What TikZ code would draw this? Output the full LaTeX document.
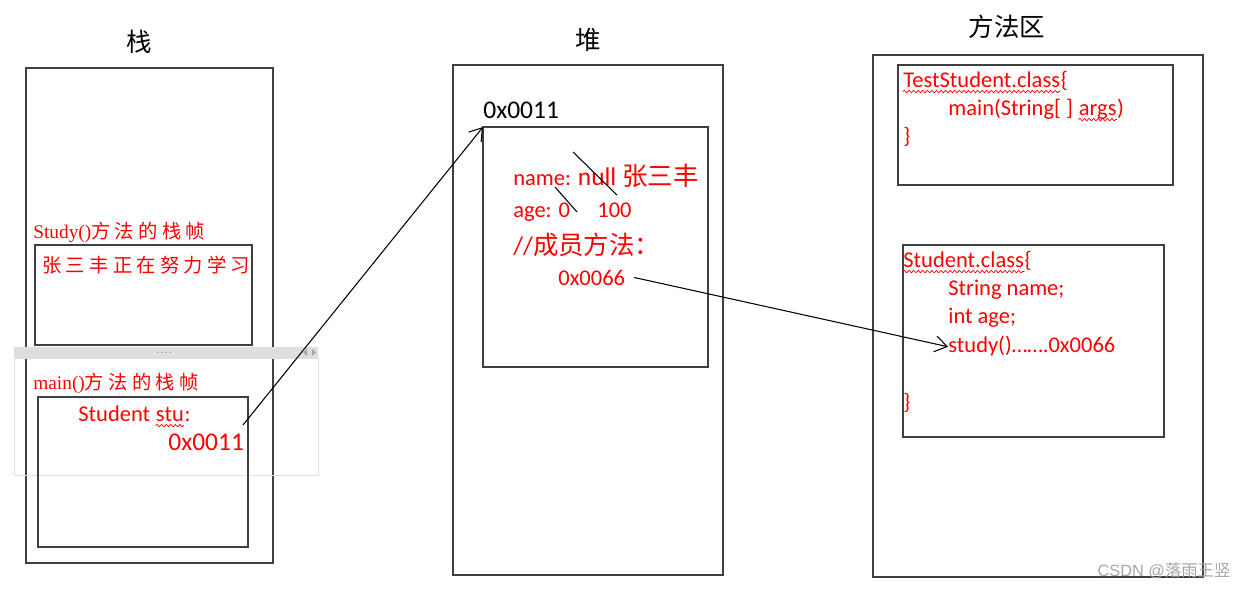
\documentclass[tikz,border=0pt]{standalone}
\usepackage{fontspec}
\setmainfont{Carlito}
\newfontfamily\cjk{Noto Sans CJK SC}
\newfontfamily\cjkwide[LetterSpace=22]{Noto Sans CJK SC}
\newfontfamily\serifl{Liberation Serif}
\newfontfamily\wmark{Liberation Sans}
\usetikzlibrary{arrows.meta,decorations.pathmorphing}
\definecolor{boxline}{RGB}{64,64,64}
\definecolor{wordred}{RGB}{255,0,0}
\definecolor{handle}{RGB}{222,222,222}

\begin{document}
\begin{tikzpicture}[x=0.02cm,y=-0.02cm,
    frame/.style={draw=boxline,line width=0.8pt,inner sep=0pt,outer sep=0pt,
                  anchor=north west},
    code/.style={text=wordred,anchor=base west,inner sep=0pt,
                 font=\fontsize{12.8}{14}\selectfont},
    big/.style={text=wordred,anchor=base west,inner sep=0pt,
                font=\fontsize{14.5}{16}\selectfont},
    label/.style={text=wordred,anchor=base west,inner sep=0pt,
                  font=\serifl\fontsize{11}{12}\selectfont},
    title/.style={font=\cjk\fontsize{14.5}{16}\selectfont,inner sep=0pt},
    squig/.style={draw=wordred,line width=0.4pt,
                  decorate,decoration={snake,segment length=2.6pt,amplitude=0.7pt}},
    cross/.style={line width=0.6pt},
    link/.style={-{Straight Barb[length=2.4mm,width=3.2mm]},line width=0.6pt}]
  \useasboundingbox (0,0) rectangle (1247,589);

  % regions
  \node[frame,minimum width=4.94cm,minimum height=9.9cm] (stack) at (26,68) {};
  \node[frame,minimum width=5.4cm,minimum height=10.2cm] (heap) at (453,65) {};
  \node[frame,minimum width=6.6cm,minimum height=10.44cm] (methods) at (873,55) {};
  \node[title] (stacktitle) at (139,42) {栈};
  \node[title] (heaptitle) at (588,40) {堆};
  \node[title] (methodstitle) at (1007,27) {方法区};

  % stack frames
  \node[frame,minimum width=4.34cm,minimum height=2cm] (studyframe) at (35,245) {};
  \fill[handle] (14,347) rectangle (318,358);
  \draw[handle,line width=0.5pt] (14,358) rectangle (318,475);
  \foreach \d in {158,162,166,170} \fill[gray] (\d,352.5) circle (0.7);
  \fill[gray!70] (307,349) -- (303,352.5) -- (307,356) -- cycle;
  \fill[gray!70] (312,349) -- (316,352.5) -- (312,356) -- cycle;
  \node[frame,minimum width=4.2cm,minimum height=3cm] (mainframe) at (38,397) {};
  \node[label] (studylabel) at (33,238) {Study()\cjkwide 方法的栈帧};
  \node[label,font=\cjkwide\fontsize{11}{12}\selectfont] (studying) at (42,272) {张三丰正在努力学习};
  \node[label] (mainlabel) at (33,389) {main()\cjkwide 方法的栈帧};
  \node[code] (stutype) at (78,421) {Student\ \mbox{}};
  \node[code] (stu) at (stutype.base east) {stu};
  \node[code] (stucolon) at (stu.base east) {:};
  \node[big] (ref) at (168,450) {0x0011};
  \coordinate (refout) at (243,425);

  % heap object
  \node[frame,minimum width=4.5cm,minimum height=4.8cm] (obj) at (483,127) {};
  \node[big,text=black] (objaddr) at (483,118) {0x0011};
  \node[code] (name) at (513,185) {name: {\fontsize{14.5}{16}\selectfont null \cjk 张三丰}};
  \node[code] (age) at (513,217) {age: 0};
  \node[code] (newage) at (597,217) {100};
  \node[big] (members) at (513,254) {//{\cjk 成员方法：}};
  \node[code] (addr66) at (558,285) {0x0066};
  \draw[cross] (573,152) -- (617,195);
  \draw[cross] (555,187) -- (577,212);

  % method area
  \node[frame,minimum width=5.5cm,minimum height=2.4cm] (testclass) at (898,65) {};
  \node[code] (tsword) at (903,87) {TestStudent.class};
  \node[code] (tsbrace) at (tsword.base east) {\{};
  \node[code] (mainline) at (948,115) {main(String[ ]\ \mbox{}};
  \node[code] (args) at (mainline.base east) {args};
  \node[code] (argsclose) at (args.base east) {)};
  \node[code] (tsend) at (903,143) {\}};
  \node[frame,minimum width=5.22cm,minimum height=3.84cm] (stuclass) at (903,245) {};
  \node[code] (scword) at (903,267) {Student.class};
  \node[code] (scbrace) at (scword.base east) {\{};
  \node[code] (nameline) at (948,295) {String name;};
  \node[code] (ageline) at (948,323) {int age;};
  \node[code] (study) at (948,352) {study()…….0x0066};
  \node[code] (scend) at (903,409) {\}};

  % spelling marks
  \foreach \w in {stu,tsword,args,scword}
    \draw[squig] ([yshift=-2.6pt]\w.base west) -- ([yshift=-2.6pt]\w.base east);

  % references
  \draw[link] (refout) -- (obj.north west);
  \draw[link] ([xshift=5pt]addr66.east) -- ([yshift=3pt]study.base west);

  \node[text=gray!70,font=\wmark\fontsize{9.3}{11}\selectfont] (mark) at (1164,571)
    {CSDN @{\cjk 落雨王竖}};
\end{tikzpicture}
\end{document}
